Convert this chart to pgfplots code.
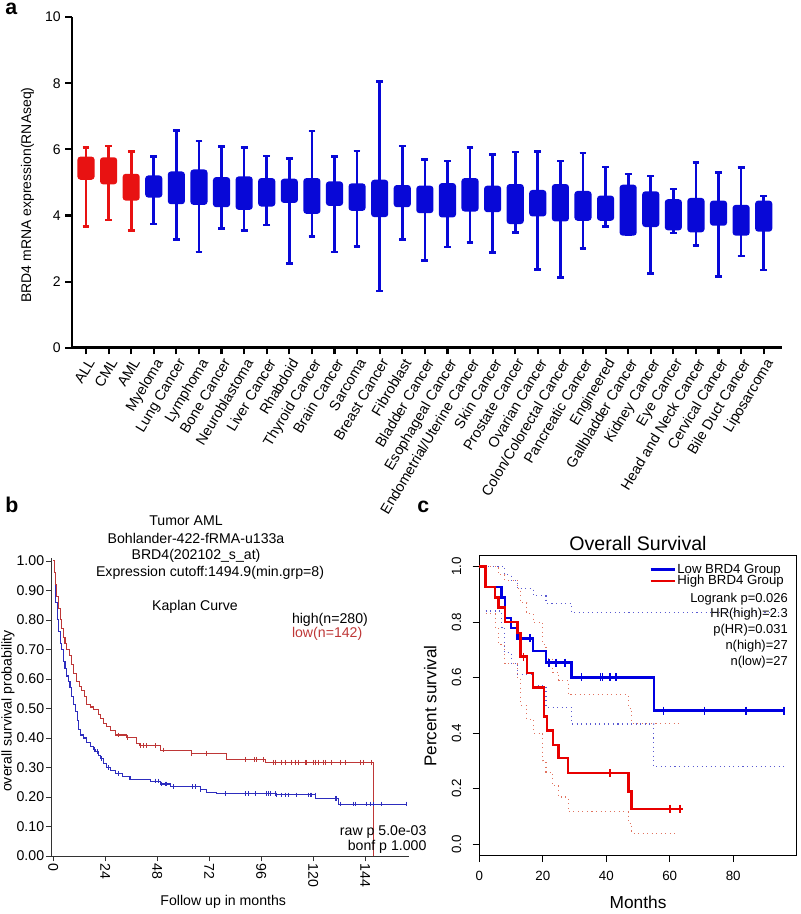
\documentclass[border=0pt]{standalone}
\usepackage{pgfplots}
\pgfplotsset{compat=1.18}
\usepgfplotslibrary{statistics}
\usepackage{fontspec}
\setmainfont{Liberation Sans}
\definecolor{boxred}{RGB}{232,18,18}
\definecolor{boxblue}{RGB}{8,8,215}
\definecolor{kmblue}{RGB}{45,45,190}
\definecolor{kmred}{RGB}{190,55,55}
\definecolor{cblue}{RGB}{0,0,225}
\definecolor{cred}{RGB}{232,0,0}
\definecolor{bandblue}{RGB}{90,90,210}
\definecolor{bandred}{RGB}{225,115,95}
\newcommand{\fa}{\fontsize{10.5}{12}\selectfont}
\newcommand{\fx}{\fontsize{10.8}{12}\selectfont}
\newcommand{\fb}{\fontsize{10.6}{12.5}\selectfont}
\newcommand{\fc}{\fontsize{10}{12}\selectfont}
\tikzset{
  bR/.style={draw=boxred, fill=boxred, line width=2pt},
  bB/.style={draw=boxblue, fill=boxblue, line width=2pt},
}
\begin{document}
\begin{tikzpicture}
\useasboundingbox (0,0) rectangle (600pt,685.5pt);
% ---------------- panel a ----------------
\begin{axis}[
  at={(54pt,424.7pt)}, anchor=south west, scale only axis,
  width=532.5pt, height=248pt,
  xmin=-0.62, xmax=30.81, ymin=0, ymax=10,
  axis lines=left, axis line style={-, line width=1.9pt},
  tick style={line width=1.6pt, black}, tick align=outside, major tick length=5pt,
  xtick={0,...,30},
  xticklabels={ALL,CML,AML,Myeloma,Lung Cancer,Lymphoma,Bone Cancer,Neuroblastoma,Liver Cancer,Rhabdoid,Thyroid Cancer,Brain Cancer,Sarcoma,Breast Cancer,Fibroblast,Bladder Cancer,Esophageal Cancer,Endometrial/Uterine Cancer,Skin Cancer,Prostate Cancer,Ovarian Cancer,Colon/Colorectal Cancer,Pancreatic Cancer,Engineered,Gallbladder Cancer,Kidney Cancer,Eye Cancer,Head and Neck Cancer,Cervical Cancer,Bile Duct Cancer,Liposarcoma},
  xticklabel style={rotate=59, anchor=north east, font=\fx, inner sep=1.5pt},
  ytick={0,2,4,6,8,10},
  yticklabel style={font=\fa},
  /pgf/number format/assume math mode=true,
  ylabel={BRD4 mRNA expression(RNAseq)},
  ylabel style={at={(axis description cs:-0.0627,0.4617)}, anchor=center, font=\fa},
  boxplot/draw direction=y,
  boxplot/box extend=0.64, boxplot/whisker extend=0.3,
  boxplot/every box/.style={rounded corners=1.5pt},
  clip=false,
]
\addplot[bR, boxplot prepared={draw position=0, lower whisker=3.66, lower quartile=5.12, median=5.43, upper quartile=5.74, upper whisker=6.05}] coordinates {};
\addplot[bR, boxplot prepared={draw position=1, lower whisker=3.86, lower quartile=4.98, median=5.35, upper quartile=5.72, upper whisker=6.10}] coordinates {};
\addplot[bR, boxplot prepared={draw position=2, lower whisker=3.55, lower quartile=4.49, median=4.85, upper quartile=5.22, upper whisker=5.94}] coordinates {};
\addplot[bB, boxplot prepared={draw position=3, lower whisker=3.74, lower quartile=4.58, median=4.87, upper quartile=5.17, upper whisker=5.78}] coordinates {};
\addplot[bB, boxplot prepared={draw position=4, lower whisker=3.27, lower quartile=4.38, median=4.83, upper quartile=5.29, upper whisker=6.57}] coordinates {};
\addplot[bB, boxplot prepared={draw position=5, lower whisker=2.90, lower quartile=4.36, median=4.85, upper quartile=5.35, upper whisker=6.25}] coordinates {};
\addplot[bB, boxplot prepared={draw position=6, lower whisker=3.61, lower quartile=4.29, median=4.70, upper quartile=5.12, upper whisker=6.09}] coordinates {};
\addplot[bB, boxplot prepared={draw position=7, lower whisker=3.55, lower quartile=4.21, median=4.67, upper quartile=5.14, upper whisker=6.06}] coordinates {};
\addplot[bB, boxplot prepared={draw position=8, lower whisker=3.71, lower quartile=4.31, median=4.70, upper quartile=5.09, upper whisker=5.80}] coordinates {};
\addplot[bB, boxplot prepared={draw position=9, lower whisker=2.55, lower quartile=4.42, median=4.75, upper quartile=5.07, upper whisker=5.73}] coordinates {};
\addplot[bB, boxplot prepared={draw position=10, lower whisker=3.37, lower quartile=4.09, median=4.59, upper quartile=5.09, upper whisker=6.55}] coordinates {};
\addplot[bB, boxplot prepared={draw position=11, lower whisker=2.90, lower quartile=4.33, median=4.66, upper quartile=4.99, upper whisker=5.78}] coordinates {};
\addplot[bB, boxplot prepared={draw position=12, lower whisker=3.07, lower quartile=4.18, median=4.55, upper quartile=4.93, upper whisker=5.95}] coordinates {};
\addplot[bB, boxplot prepared={draw position=13, lower whisker=1.72, lower quartile=3.99, median=4.51, upper quartile=5.04, upper whisker=8.06}] coordinates {};
\addplot[bB, boxplot prepared={draw position=14, lower whisker=3.27, lower quartile=4.29, median=4.58, upper quartile=4.88, upper whisker=6.10}] coordinates {};
\addplot[bB, boxplot prepared={draw position=15, lower whisker=2.63, lower quartile=4.11, median=4.48, upper quartile=4.86, upper whisker=5.69}] coordinates {};
\addplot[bB, boxplot prepared={draw position=16, lower whisker=3.05, lower quartile=3.98, median=4.46, upper quartile=4.94, upper whisker=5.65}] coordinates {};
\addplot[bB, boxplot prepared={draw position=17, lower whisker=3.18, lower quartile=4.16, median=4.62, upper quartile=5.09, upper whisker=6.05}] coordinates {};
\addplot[bB, boxplot prepared={draw position=18, lower whisker=2.88, lower quartile=4.14, median=4.50, upper quartile=4.86, upper whisker=5.85}] coordinates {};
\addplot[bB, boxplot prepared={draw position=19, lower whisker=3.48, lower quartile=3.78, median=4.34, upper quartile=4.91, upper whisker=5.92}] coordinates {};
\addplot[bB, boxplot prepared={draw position=20, lower whisker=2.37, lower quartile=4.01, median=4.37, upper quartile=4.73, upper whisker=5.93}] coordinates {};
\addplot[bB, boxplot prepared={draw position=21, lower whisker=2.12, lower quartile=3.86, median=4.38, upper quartile=4.91, upper whisker=5.65}] coordinates {};
\addplot[bB, boxplot prepared={draw position=22, lower whisker=3.00, lower quartile=3.88, median=4.29, upper quartile=4.70, upper whisker=5.89}] coordinates {};
\addplot[bB, boxplot prepared={draw position=23, lower whisker=3.66, lower quartile=3.88, median=4.22, upper quartile=4.56, upper whisker=5.47}] coordinates {};
\addplot[bB, boxplot prepared={draw position=24, lower whisker=3.42, lower quartile=3.43, median=4.15, upper quartile=4.89, upper whisker=5.25}] coordinates {};
\addplot[bB, boxplot prepared={draw position=25, lower whisker=2.25, lower quartile=3.69, median=4.19, upper quartile=4.69, upper whisker=5.19}] coordinates {};
\addplot[bB, boxplot prepared={draw position=26, lower whisker=3.47, lower quartile=3.59, median=4.02, upper quartile=4.45, upper whisker=4.80}] coordinates {};
\addplot[bB, boxplot prepared={draw position=27, lower whisker=3.10, lower quartile=3.53, median=4.01, upper quartile=4.49, upper whisker=5.60}] coordinates {};
\addplot[bB, boxplot prepared={draw position=28, lower whisker=2.15, lower quartile=3.73, median=4.07, upper quartile=4.41, upper whisker=5.30}] coordinates {};
\addplot[bB, boxplot prepared={draw position=29, lower whisker=2.77, lower quartile=3.43, median=3.85, upper quartile=4.28, upper whisker=5.45}] coordinates {};
\addplot[bB, boxplot prepared={draw position=30, lower whisker=2.35, lower quartile=3.55, median=3.98, upper quartile=4.41, upper whisker=4.59}] coordinates {};
\end{axis}
% ---------------- panel b ----------------
\begin{axis}[
  at={(38.8pt,43.5pt)}, anchor=south west, scale only axis,
  width=268pt, height=223.5pt,
  xmin=-0.74, xmax=164.3, ymin=0, ymax=1.01,
  axis lines=left, axis line style={-, line width=0.6pt, black!80},
  tick style={line width=0.6pt, black!80}, tick align=outside, major tick length=4pt,
  xtick={0,24,48,72,96,120,144},
  xticklabel style={rotate=-90, anchor=west, font=\fb, inner sep=1.5pt},
  ytick={0,0.1,0.2,0.3,0.4,0.5,0.6,0.7,0.8,0.9,1.0},
  yticklabel style={font=\fb, inner sep=1.5pt, /pgf/number format/.cd, fixed, fixed zerofill, precision=2},
  /pgf/number format/assume math mode=true,
  xlabel={Follow up in months},
  xlabel style={at={(axis description cs:0.48,-0.154)}, anchor=center, font=\fb},
  ylabel={overall survival probability},
  ylabel style={at={(axis description cs:-0.1225,0.4866)}, anchor=center, font=\fb},
  clip=false,
]
% high group (blue)
\addplot[kmblue, line width=0.8pt, const plot] coordinates {
(0,1.0) (0.4,0.96) (0.8,0.91) (1.2,0.86) (1.8,0.80) (2.5,0.76) (3.1,0.72) (3.7,0.70) (4.5,0.66) (5.4,0.635) (6.2,0.61) (6.9,0.59) (7.7,0.57) (8.6,0.54) (9.4,0.515) (10.2,0.49) (11,0.46) (11.8,0.43) (12.6,0.41) (13.8,0.40) (15.4,0.385) (17,0.372) (18.5,0.362) (19.6,0.353) (20.8,0.342) (21.6,0.331) (23,0.315) (24.7,0.30) (26.5,0.29) (28.5,0.28) (32,0.27) (35.4,0.26) (44.7,0.254) (49.3,0.244) (53.9,0.235) (67.8,0.226) (70.8,0.215) (75.5,0.212) (103,0.207) (121,0.196) (131.6,0.176) (163,0.176)
};
% low group (red)
\addplot[kmred, line width=0.8pt, const plot] coordinates {
(0,1.0) (0.5,0.96) (1,0.92) (1.6,0.88) (2.3,0.84) (3.1,0.80) (3.8,0.77) (4.6,0.74) (5.4,0.72) (6.2,0.70) (7.3,0.68) (8.5,0.65) (9.5,0.62) (10.8,0.59) (12,0.575) (13.1,0.56) (14.2,0.54) (15.4,0.515) (17,0.505) (18.5,0.495) (20.8,0.48) (21.6,0.467) (23,0.45) (24.7,0.438) (26.5,0.425) (28.5,0.41) (33.9,0.402) (38.5,0.382) (40,0.374) (49.3,0.359) (63.9,0.348) (80,0.328) (97.8,0.318) (147.8,0.0)
};
\addplot[kmblue, only marks, mark=|, mark size=1.8pt, mark options={line width=0.6pt}] coordinates {
(19,0.362) (20.2,0.353) (22.3,0.331) (25.5,0.30) (30,0.28) (47,0.254) (48.6,0.254) (50.1,0.244) (51.6,0.244) (52.4,0.244) (55.5,0.235) (64,0.235) (65.5,0.235) (67.8,0.226) (79.4,0.212) (88.6,0.212) (90.1,0.212) (93.2,0.212) (98.6,0.212) (99.4,0.212) (100.1,0.212) (102.4,0.212) (103.2,0.207) (105.5,0.207) (107,0.207) (108.6,0.207) (112.4,0.207) (117.8,0.207) (118.6,0.207) (119.4,0.207) (120.9,0.207) (130.1,0.196) (130.9,0.196) (132.5,0.176) (138.6,0.176) (139.4,0.176) (144.8,0.176) (146.3,0.176) (147.8,0.176) (151.7,0.176) (163,0.176)
};
\addplot[kmred, only marks, mark=|, mark size=1.8pt, mark options={line width=0.6pt}] coordinates {
(30,0.41) (34.2,0.402) (40.4,0.374) (41.6,0.374) (43.1,0.374) (47,0.374) (50.8,0.359) (63.9,0.348) (70.8,0.348) (88.8,0.328) (92.7,0.328) (93.9,0.328) (97,0.328) (101.6,0.318) (102.4,0.318) (105.5,0.318) (107,0.318) (110.1,0.318) (111.6,0.318) (113.2,0.318) (116.2,0.318) (117,0.318) (120.1,0.318) (120.9,0.318) (122.4,0.318) (124.7,0.318) (125.5,0.318) (128.6,0.318) (132.5,0.318) (134.8,0.318) (141.7,0.318) (143.2,0.318) (147,0.318)
};
\end{axis}
% ---------------- panel c ----------------
\begin{axis}[
  at={(359.5pt,44pt)}, anchor=south west, scale only axis,
  width=238pt, height=224.9pt,
  xmin=0, xmax=100, ymin=-0.04, ymax=1.04,
  axis line style={line width=0.7pt},
  tick style={line width=0.7pt, black}, tick align=outside, major tick length=5pt,
  xtick pos=left, ytick pos=left,
  xtick={0,20,40,60,80},
  xticklabel style={font=\fc, yshift=-3pt},
  ytick={0,0.2,0.4,0.6,0.8,1.0},
  yticklabel={\rotatebox{90}{\pgfmathprintnumber[fixed,fixed zerofill,precision=1]{\tick}}},
  yticklabel style={font=\fc, anchor=east, xshift=-5pt},
  /pgf/number format/assume math mode=true,
  xlabel={Months},
  xlabel style={at={(axis description cs:0.5,-0.155)}, anchor=center, font=\fontsize{13}{15}\selectfont},
  ylabel={Percent survival},
  ylabel style={at={(axis description cs:-0.155,0.498)}, anchor=center, font=\fontsize{12.8}{15}\selectfont},
  legend style={at={(rel axis cs:0.535,0.978)}, anchor=north west, draw=none, fill=none, inner sep=0pt, row sep=-2.2pt, font=\fontsize{9.9}{11}\selectfont, nodes={inner sep=1.2pt}},
  legend cell align=left,
  legend image code/.code={\draw[#1] (0pt,0pt) -- (18pt,0pt);},
  clip=false,
]
% confidence bands
\addplot[bandblue, line width=0.8pt, dash pattern=on 0.8pt off 2.6pt, const plot, forget plot] coordinates {
(0,1.0) (8,0.97) (10,0.95) (12,0.92) (17,0.895) (21,0.868) (29,0.835) (96,0.835)
};
\addplot[bandblue, line width=0.8pt, dash pattern=on 0.8pt off 2.6pt, const plot, forget plot] coordinates {
(2,0.84) (7,0.78) (8,0.69) (10,0.65) (12,0.61) (17,0.57) (21,0.493) (29,0.433) (55,0.279) (96,0.279)
};
\addplot[bandred, line width=0.8pt, dash pattern=on 0.8pt off 2.6pt, const plot, forget plot] coordinates {
(2,1.0) (6,0.97) (8,0.95) (12,0.92) (13,0.87) (15,0.83) (17,0.80) (20,0.72) (21,0.67) (23,0.62) (25,0.59) (28,0.538) (47,0.49) (48,0.436) (63,0.436)
};
\addplot[bandred, line width=0.8pt, dash pattern=on 0.8pt off 2.6pt, const plot, forget plot] coordinates {
(2,0.83) (5,0.78) (6,0.72) (8,0.65) (12,0.60) (13,0.50) (15,0.45) (17,0.40) (20,0.30) (21,0.26) (23,0.21) (25,0.17) (28,0.117) (47,0.075) (48,0.04) (62,0.04)
};
% survival curves
\addplot[cblue, line width=1.8pt, const plot] coordinates {
(0,1.0) (2,0.926) (7,0.889) (8,0.815) (10,0.778) (12,0.741) (17,0.696) (21,0.654) (29,0.601) (55,0.481) (96,0.481)
};
\addlegendentry{Low BRD4 Group}
\addplot[cred, line width=1.8pt, const plot] coordinates {
(0,1.0) (2,0.926) (5,0.889) (6,0.852) (8,0.80) (12,0.76) (13,0.676) (15,0.616) (17,0.565) (20.4,0.46) (21.4,0.41) (23.3,0.358) (24.9,0.31) (28,0.256) (47,0.19) (48,0.127) (64.3,0.127)
};
\addlegendentry{High BRD4 Group}
\addplot[cblue, only marks, mark=|, mark size=3pt, mark options={line width=1.1pt}, forget plot] coordinates {
(16,0.741) (22,0.654) (24.2,0.654) (27,0.654) (32.2,0.601) (38.2,0.601) (38.8,0.601) (41.2,0.601) (43,0.601) (58,0.481) (71,0.481) (84,0.481) (96,0.481)
};
\addplot[cred, only marks, mark=|, mark size=3pt, mark options={line width=1.1pt}, forget plot] coordinates {
(14,0.676) (41.2,0.256) (60.1,0.127) (63.2,0.127)
};
\end{axis}
% ---------------- annotations ----------------
\node[anchor=base west, font=\fontsize{16}{18}\selectfont\bfseries, inner sep=0pt] at (3.75pt,674.25pt) {a};
\node[anchor=base west, font=\fontsize{16}{18}\selectfont\bfseries, inner sep=0pt] at (3.75pt,300.75pt) {b};
\node[anchor=base west, font=\fontsize{16}{18}\selectfont\bfseries, inner sep=0pt] at (312.75pt,300.75pt) {c};
\node[font=\fb, inner sep=0pt] at (139.5pt,295pt) {Tumor AML};
\node[font=\fb, inner sep=0pt] at (147pt,281.8pt) {Bohlander-422-fRMA-u133a};
\node[font=\fb, inner sep=0pt] at (147pt,268.5pt) {BRD4(202102\_s\_at)};
\node[font=\fb, inner sep=0pt] at (157.5pt,255.5pt) {Expression cutoff:1494.9(min.grp=8)};
\node[font=\fb, inner sep=0pt] at (146.25pt,230.5pt) {Kaplan Curve};
\node[font=\fb, inner sep=0pt, anchor=west] at (218.8pt,220.5pt) {high(n=280)};
\node[font=\fb, inner sep=0pt, anchor=west, text=kmred] at (218.8pt,210pt) {low(n=142)};
\node[font=\fb, inner sep=0pt, anchor=east] at (320pt,61.7pt) {raw p 5.0e-03};
\node[font=\fb, inner sep=0pt, anchor=east] at (320pt,50.5pt) {bonf p 1.000};
\node[font=\fontsize{14.7}{17}\selectfont, inner sep=0pt] at (478.5pt,278.25pt) {Overall Survival};
\node[font=\fontsize{9.7}{11}\selectfont, inner sep=0pt, anchor=east] at (591pt,236.25pt) {Logrank p=0.026};
\node[font=\fontsize{9.7}{11}\selectfont, inner sep=0pt, anchor=east] at (591pt,224.8pt) {HR(high)=2.3};
\node[font=\fontsize{9.7}{11}\selectfont, inner sep=0pt, anchor=east] at (591pt,213pt) {p(HR)=0.031};
\node[font=\fontsize{9.7}{11}\selectfont, inner sep=0pt, anchor=east] at (591pt,201.2pt) {n(high)=27};
\node[font=\fontsize{9.7}{11}\selectfont, inner sep=0pt, anchor=east] at (591pt,189.2pt) {n(low)=27};
\end{tikzpicture}
\end{document}
